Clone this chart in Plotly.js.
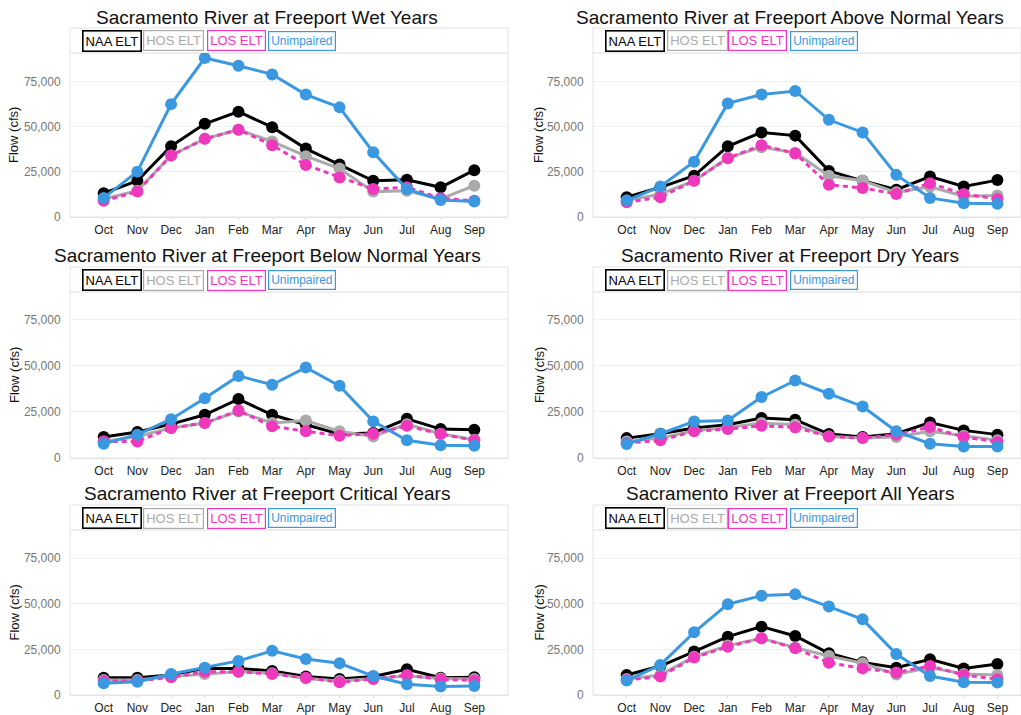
<!DOCTYPE html>
<html>
<head>
<meta charset="utf-8">
<script src="https://cdn.plot.ly/plotly-3.0.1.min.js"></script>
<style>html,body{margin:0;padding:0;background:#fff;}#chart{width:1021px;height:715px;}</style>
</head>
<body>
<div id="chart"></div>
<script>
const months = ['Oct','Nov','Dec','Jan','Feb','Mar','Apr','May','Jun','Jul','Aug','Sep'];
const seriesNames = ['NAA ELT','HOS ELT','LOS ELT','Unimpaired'];
const panelTitles = [
  'Sacramento River at Freeport Wet Years',
  'Sacramento River at Freeport Above Normal Years',
  'Sacramento River at Freeport Below Normal Years',
  'Sacramento River at Freeport Dry Years',
  'Sacramento River at Freeport Critical Years',
  'Sacramento River at Freeport All Years'
];
const yTickVals = [0, 25000, 50000, 75000];
const yTickText = ['0', '25,000', '50,000', '75,000'];

// Wet Years
const wet_NAA   = [13200, 20100, 39300, 51800, 58500, 49900, 38000, 29100, 20100, 20700, 16500, 26000];
const wet_HOS   = [10000, 14600, 34200, 43400, 48500, 42000, 33800, 26900, 14100, 14600, 10000, 17400];
const wet_LOS   = [9000, 14100, 34200, 43400, 48500, 39900, 28900, 22000, 15500, 16500, 10400, 9000];
const wet_UNIMP = [10600, 25200, 62700, 88300, 84000, 79200, 68000, 60900, 36000, 15500, 9500, 8600];
// Above Normal Years
const an_NAA   = [11000, 16500, 22900, 39300, 47000, 45200, 25600, 20100, 15200, 22500, 17000, 20500];
const an_HOS   = [9100, 12800, 20100, 32900, 38800, 35700, 22900, 20100, 13700, 16800, 11500, 11900];
const an_LOS   = [8200, 11000, 20100, 32600, 39900, 35300, 17900, 16100, 12800, 18800, 12800, 10000];
const an_UNIMP = [9100, 17000, 30700, 63100, 68000, 70000, 54000, 47000, 23400, 10600, 7700, 7300];
// Below Normal Years
const bn_NAA   = [11400, 14100, 18400, 23500, 32000, 23500, 18100, 13000, 13600, 21300, 15700, 15400];
const bn_HOS   = [9000, 11700, 16300, 19000, 25300, 19000, 20400, 14500, 11700, 18400, 13200, 9900];
const bn_LOS   = [9000, 9000, 16300, 19000, 25800, 17200, 14500, 12100, 13200, 17500, 13000, 9600];
const bn_UNIMP = [7800, 12700, 21100, 32500, 44600, 39800, 49200, 39200, 19900, 9600, 6900, 6700];
// Dry Years
const dry_NAA   = [10800, 13200, 16300, 18100, 21700, 20800, 13000, 11400, 13200, 19300, 15000, 12700];
const dry_HOS   = [9000, 10800, 14800, 16600, 19000, 18100, 11700, 10800, 11400, 14500, 12100, 9600];
const dry_LOS   = [8100, 9600, 14500, 15700, 17500, 16600, 11700, 10800, 12700, 16800, 11400, 8700];
const dry_UNIMP = [7600, 13200, 19900, 20400, 33100, 42100, 34900, 28000, 14500, 7800, 6300, 6300];
// Critical Years
const crit_NAA   = [9500, 9500, 11000, 14600, 14600, 13200, 10100, 8800, 10100, 14100, 9500, 9700];
const crit_HOS   = [8200, 8200, 10100, 11500, 12800, 11900, 9100, 7700, 9100, 10400, 9100, 8800];
const crit_LOS   = [7700, 7700, 9700, 12800, 12800, 11500, 9500, 7000, 8800, 11000, 8600, 7900];
const crit_UNIMP = [6400, 7300, 11500, 15000, 18700, 24300, 19800, 17400, 10400, 5900, 4600, 4900];
// All Years
const all_NAA   = [11000, 15900, 23800, 32000, 37500, 32400, 22900, 17900, 15000, 19600, 14600, 17000];
const all_HOS   = [8800, 11000, 21000, 27100, 31100, 26000, 21400, 17400, 11300, 15000, 11500, 11000];
const all_LOS   = [8200, 10100, 20500, 26500, 31100, 25600, 17700, 14600, 12300, 15900, 11000, 8600];
const all_UNIMP = [7900, 16500, 34400, 49800, 54500, 55200, 48500, 41500, 22500, 10400, 7000, 6800];

const panelData = [
  [wet_NAA, wet_HOS, wet_LOS, wet_UNIMP],
  [an_NAA, an_HOS, an_LOS, an_UNIMP],
  [bn_NAA, bn_HOS, bn_LOS, bn_UNIMP],
  [dry_NAA, dry_HOS, dry_LOS, dry_UNIMP],
  [crit_NAA, crit_HOS, crit_LOS, crit_UNIMP],
  [all_NAA, all_HOS, all_LOS, all_UNIMP]
];

const W = 1021, H = 715;
const px = v => v / W;
const py = v => 1 - v / H;

const colors = ['#000000', '#aaaaaa', '#ee38bd', '#3a98e0'];
const dashes = ['solid', 'solid', '5px,4px', 'solid'];

// geometry in pixels
const cols = [
  {left: 70, right: 508, range: [-1, 12], titleX: 267, ylabX: 14, legX: [82, 143, 207, 268]},
  {left: 593, right: 1021, range: [-1, 11.7], titleX: 790, ylabX: 539, legX: [605, 667, 728, 790]}
];
const rows = [
  {top: 28, sep: 53, zero: 217, ymax: 91100, titleY: 17, legY: 41},
  {top: 267, sep: 292, zero: 458, ymax: 90200, titleY: 255, legY: 280},
  {top: 505, sep: 530, zero: 695, ymax: 90500, titleY: 493, legY: 518}
];

const traces = [];
const layout = {
  width: W, height: H,
  margin: {l: 0, r: 0, t: 0, b: 0},
  paper_bgcolor: '#ffffff', plot_bgcolor: '#ffffff',
  showlegend: false,
  font: {family: 'Liberation Sans, Arial, sans-serif', size: 12, color: '#333'},
  annotations: [], shapes: []
};

for (let p = 0; p < 6; p++) {
  const r = rows[Math.floor(p / 2)], c = cols[p % 2];
  const idx = p === 0 ? '' : String(p + 1);
  const xa = 'x' + idx, ya = 'y' + idx;
  layout['xaxis' + idx] = {
    domain: [px(c.left), px(c.right)], range: c.range, anchor: ya,
    tickmode: 'array', tickvals: months.map((m, i) => i), ticktext: months,
    showgrid: false, zeroline: false, showline: true, linecolor: '#e4e4e4', linewidth: 1,
    ticks: 'outside', ticklen: 2, tickcolor: '#dddddd',
    tickfont: {size: 12, color: '#222'}, fixedrange: true
  };
  layout['yaxis' + idx] = {
    domain: [py(r.zero), py(r.sep)], range: [0, r.ymax], anchor: xa,
    tickmode: 'array', tickvals: yTickVals, ticktext: yTickText,
    showgrid: true, gridcolor: '#efefef', zeroline: false, showline: false,
    ticks: 'outside', ticklen: 6, tickcolor: 'rgba(0,0,0,0)',
    tickfont: {size: 12, color: '#777'}, fixedrange: true
  };
  panelData[p].forEach((vals, s) => {
    traces.push({
      type: 'scatter', mode: 'lines+markers', name: seriesNames[s],
      x: months.map((m, i) => i), y: vals, xaxis: xa, yaxis: ya,
      line: {color: colors[s], width: 3, dash: dashes[s]},
      marker: {color: colors[s], size: 12},
      hoverinfo: 'y'
    });
  });
  // frame around panel including legend band
  layout.shapes.push({type: 'rect', xref: 'paper', yref: 'paper',
    x0: px(c.left), x1: px(c.right), y0: py(r.zero), y1: py(r.top),
    line: {color: '#e4e4e4', width: 1}, fillcolor: 'rgba(0,0,0,0)', layer: 'below'});
  layout.shapes.push({type: 'line', xref: 'paper', yref: 'paper',
    x0: px(c.left), x1: px(c.right), y0: py(r.sep), y1: py(r.sep),
    line: {color: '#e8e8e8', width: 1.5}, layer: 'below'});
  // title
  layout.annotations.push({text: panelTitles[p], xref: 'paper', yref: 'paper',
    x: px(c.titleX), y: py(r.titleY), xanchor: 'center', yanchor: 'middle',
    showarrow: false, font: {size: 19, color: '#111'}});
  // y axis title
  layout.annotations.push({text: 'Flow (cfs)', xref: 'paper', yref: 'paper',
    x: px(c.ylabX), y: py((r.sep + r.zero) / 2), xanchor: 'center', yanchor: 'middle',
    textangle: -90, showarrow: false, font: {size: 13, color: '#111'}});
  // legend boxes
  seriesNames.forEach((nm, s) => {
    layout.annotations.push({text: nm, xref: 'paper', yref: 'paper',
      x: px(c.legX[s]), y: py(r.legY), xanchor: 'left', yanchor: 'middle',
      showarrow: false, bgcolor: '#ffffff', bordercolor: colors[s],
      borderwidth: s === 0 ? 1.6 : 1.2, borderpad: 2,
      font: {size: s === 3 ? 12 : 13, color: colors[s]}});
  });
}

Plotly.newPlot('chart', traces, layout, {displayModeBar: false, staticPlot: true});
</script>
</body>
</html>
